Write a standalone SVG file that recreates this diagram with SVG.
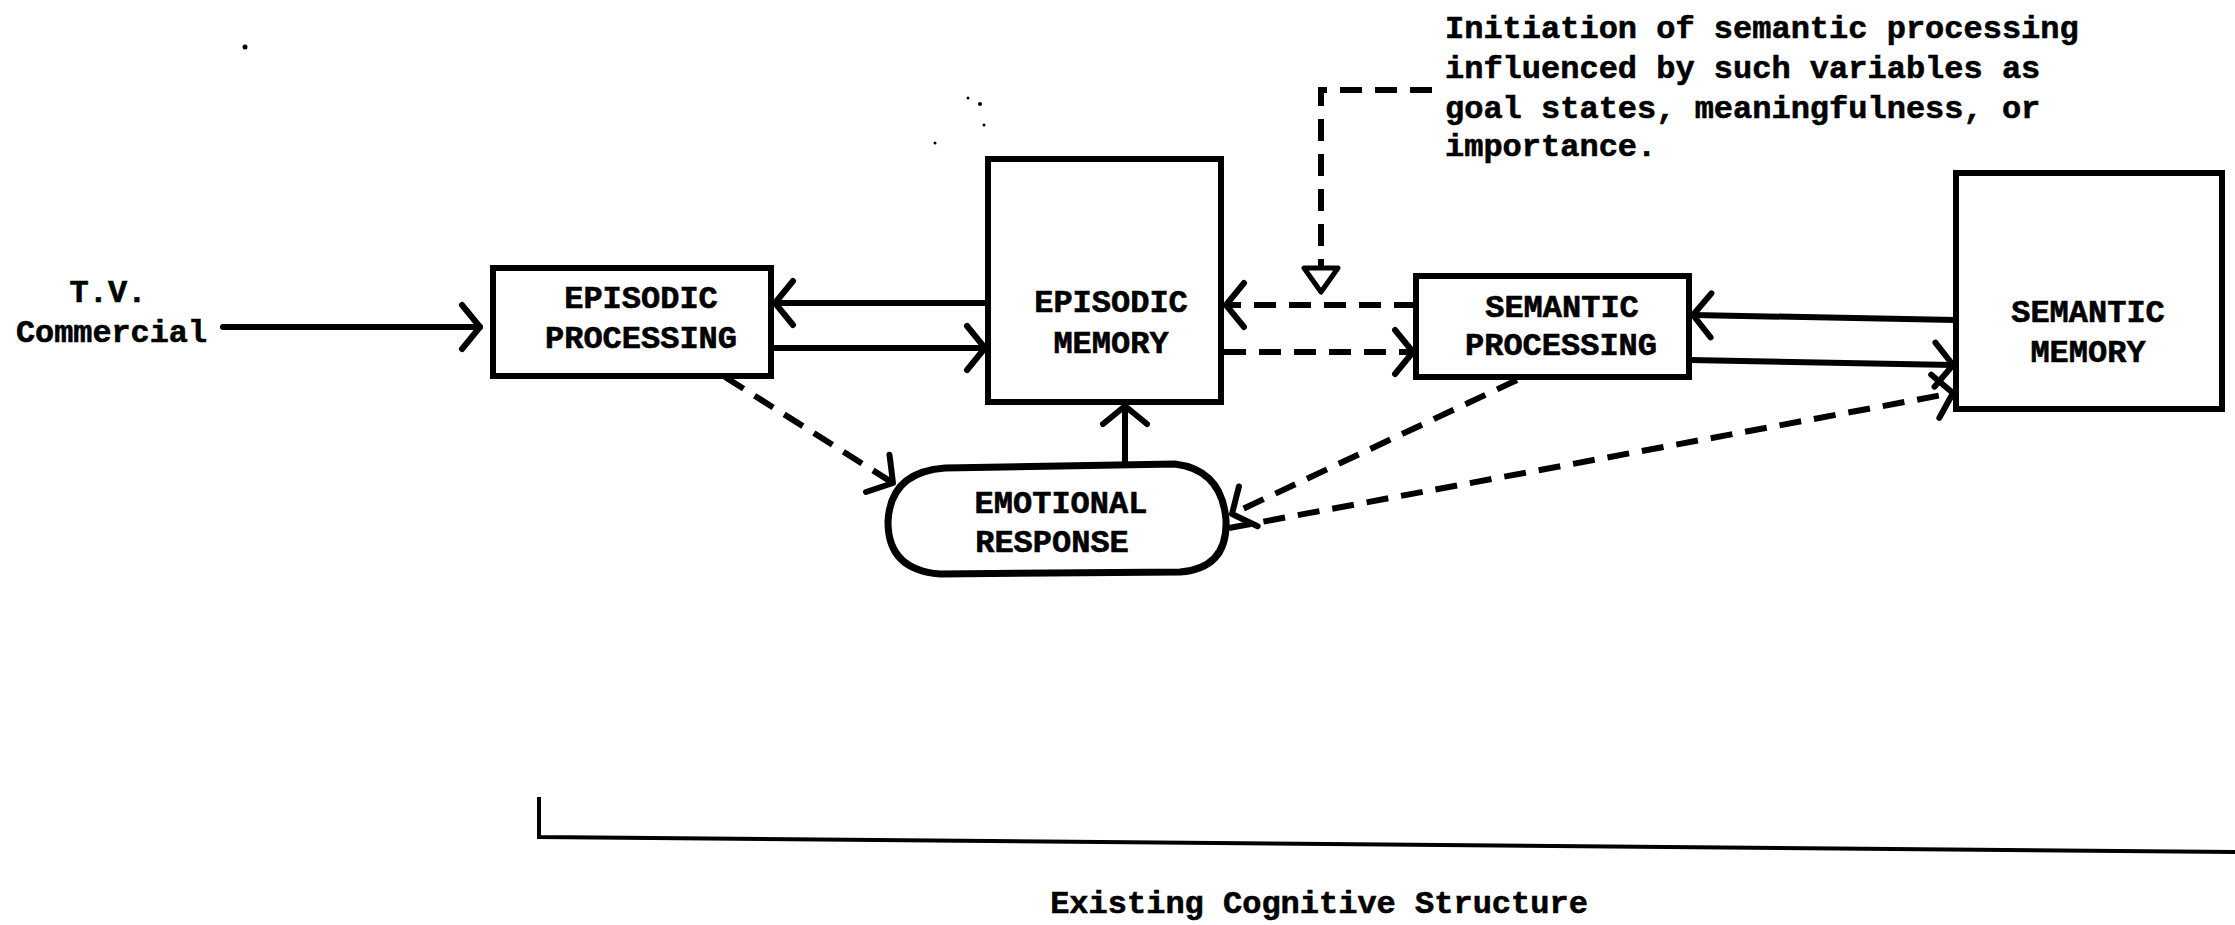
<svg xmlns="http://www.w3.org/2000/svg" width="2235" height="925" viewBox="0 0 2235 925">
<defs>
<style>
.t{font-family:"Liberation Mono","DejaVu Sans Mono",monospace;font-weight:bold;font-size:32px;fill:#000;stroke:#000;stroke-width:0.6}
.c{text-anchor:middle}
.box{fill:#fff;stroke:#000;stroke-width:6}
.ln{fill:none;stroke:#000;stroke-width:6;stroke-linecap:round}
.ds{fill:none;stroke:#000;stroke-width:6;stroke-dasharray:22 13}
</style>
<marker id="ch" markerUnits="userSpaceOnUse" markerWidth="60" markerHeight="60" viewBox="-30 -30 40 60" refX="0" refY="0" orient="auto">
<path d="M-18,-22 L0,0 L-18,22" fill="none" stroke="#000" stroke-width="6" stroke-linecap="round" stroke-linejoin="round"/>
</marker>
</defs>
<rect width="2235" height="925" fill="#fff"/>

<g id="specks" fill="#000">
<circle cx="245" cy="47" r="2.5"/>
<circle cx="968" cy="98" r="1.5"/>
<circle cx="980" cy="104" r="2"/>
<circle cx="984" cy="125" r="1.5"/>
<circle cx="935" cy="143" r="1.5"/>
</g>

<g id="tv-commercial">
<text class="t c" x="108" y="302">T.V.</text>
<text class="t" x="16" y="342" textLength="191" lengthAdjust="spacingAndGlyphs">Commercial</text>
</g>

<g id="episodic-processing">
<rect class="box" x="493" y="268" width="278" height="108"/>
<text class="t c" x="641" y="308">EPISODIC</text>
<text class="t c" x="641" y="348">PROCESSING</text>
</g>

<g id="episodic-memory">
<rect class="box" x="988" y="159" width="233" height="243"/>
<text class="t c" x="1111" y="312">EPISODIC</text>
<text class="t c" x="1111" y="353">MEMORY</text>
</g>

<g id="semantic-processing">
<rect class="box" x="1416" y="276" width="273" height="101"/>
<text class="t c" x="1562" y="317">SEMANTIC</text>
<text class="t c" x="1561" y="355">PROCESSING</text>
</g>

<g id="semantic-memory">
<rect class="box" x="1956" y="173" width="266" height="236"/>
<text class="t c" x="2088" y="322">SEMANTIC</text>
<text class="t c" x="2088" y="362">MEMORY</text>
</g>

<g id="emotional-response">
<path d="M945,468 L1175,464 Q1222,470 1226,520 Q1228,568 1180,572 L940,574 Q888,570 888,522 Q890,472 945,468 Z" fill="#fff" stroke="#000" stroke-width="7"/>
<text class="t c" x="1061" y="513">EMOTIONAL</text>
<text class="t c" x="1052" y="552">RESPONSE</text>
</g>

<g id="annotation">
<text class="t" x="1445" y="38">Initiation of semantic processing</text>
<text class="t" x="1445" y="78">influenced by such variables as</text>
<text class="t" x="1445" y="118">goal states, meaningfulness, or</text>
<text class="t" x="1445" y="156">importance.</text>
</g>

<g id="connectors">
<line class="ln" x1="223" y1="327" x2="480" y2="327" marker-end="url(#ch)"/>
<line class="ln" x1="987" y1="303" x2="775" y2="303" marker-end="url(#ch)"/>
<line class="ln" x1="773" y1="348" x2="985" y2="348" marker-end="url(#ch)"/>
<line class="ds" x1="1416" y1="305" x2="1226" y2="305" marker-end="url(#ch)"/>
<line class="ds" x1="1224" y1="352" x2="1413" y2="352" marker-end="url(#ch)"/>
<line class="ln" x1="1956" y1="320" x2="1693" y2="315" marker-end="url(#ch)"/>
<line class="ln" x1="1690" y1="360" x2="1953" y2="365" marker-end="url(#ch)"/>
<line class="ds" x1="725" y1="377" x2="893" y2="483" marker-end="url(#ch)"/>
<line class="ln" x1="1125" y1="463" x2="1125" y2="406" marker-end="url(#ch)"/>
<line class="ds" x1="1517" y1="380" x2="1232" y2="514" marker-end="url(#ch)"/>
<line class="ds" x1="1229" y1="528" x2="1953" y2="393" marker-end="url(#ch)"/>
<polyline class="ds" points="1432,90 1321,90 1321,268"/>
<polygon points="1304,268 1338,268 1321,292" fill="#fff" stroke="#000" stroke-width="5" stroke-linejoin="round"/>
</g>

<g id="bracket">
<path d="M539,797 L539,837 L2235,852" fill="none" stroke="#000" stroke-width="4"/>
<text class="t c" x="1319" y="913">Existing Cognitive Structure</text>
</g>
</svg>
